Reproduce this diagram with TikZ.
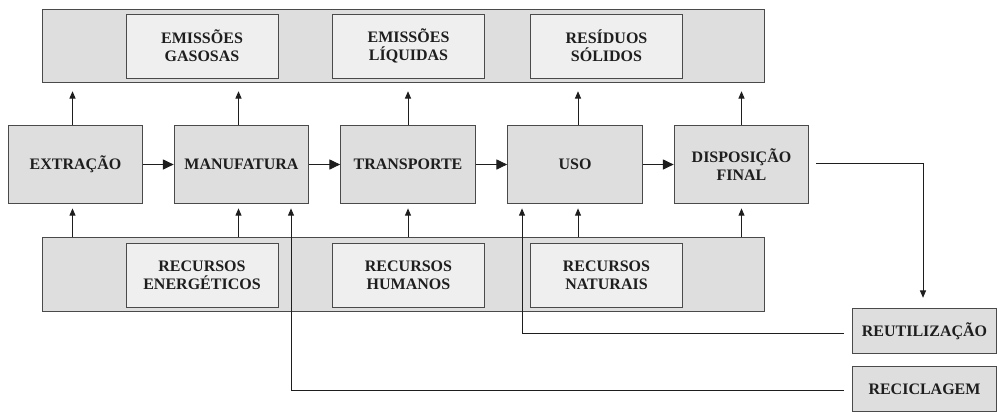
\documentclass[tikz,border=0pt]{standalone}
\usepackage{fontspec}
\setmainfont{Liberation Serif}
\usetikzlibrary{arrows.meta,positioning}
\definecolor{bandfill}{HTML}{DEDEDE}
\definecolor{innerfill}{HTML}{EFEFEF}
\definecolor{edge}{HTML}{4A4A4A}
\definecolor{ink}{HTML}{1E1E1E}
\tikzset{
  lbl/.style={align=center, font=\fontsize{12}{13.6}\selectfont\bfseries, text=ink},
  band/.style={draw=edge, fill=bandfill, line width=0.8pt, minimum width=542pt, minimum height=55pt, inner sep=0pt},
  inner/.style={lbl, draw=edge, fill=innerfill, line width=0.75pt, minimum width=114pt, minimum height=48pt, inner sep=0pt},
  stage/.style={lbl, draw=edge, fill=bandfill, line width=0.8pt, minimum width=101pt, minimum height=59pt, inner sep=0pt},
  side/.style={lbl, draw=edge, fill=bandfill, line width=0.8pt, minimum width=108pt, minimum height=34pt, inner sep=0pt},
  conn/.style={draw=ink, line width=0.7pt},
  uparr/.style={conn, -{Triangle[length=5.5pt,width=4.5pt]}},
  harr/.style={conn, -{Triangle[length=8pt,width=7.5pt]}},
}
\begin{document}
\begin{tikzpicture}[x=0.75pt,y=-0.75pt]
\useasboundingbox (0,0) rectangle (1000,411);
% bands
\node[band] (top) at (403.5,46) {};
\node[band] (bot) at (403.5,274.5) {};
% top inner boxes
\node[inner] (gas) at (202,46) {EMISSÕES\\GASOSAS};
\node[inner] (liq) at (408.5,46) {EMISSÕES\\LÍQUIDAS};
\node[inner] (sol) at (606.5,46) {RESÍDUOS\\SÓLIDOS};
% bottom inner boxes
\node[inner] (ene) at (202,275) {RECURSOS\\ENERGÉTICOS};
\node[inner] (hum) at (408.5,275) {RECURSOS\\HUMANOS};
\node[inner] (nat) at (606.5,275) {RECURSOS\\NATURAIS};
% stages
\node[stage] (ext) at (75.5,164.5) {EXTRAÇÃO};
\node[stage] (man) at (241.5,164.5) {MANUFATURA};
\node[stage] (tra) at (408,164.5) {TRANSPORTE};
\node[stage] (uso) at (575,164.5) {USO};
\node[stage] (dis) at (741.5,164.5) {DISPOSIÇÃO\\FINAL};
% side boxes
\node[side] (reu) at (924.5,331) {REUTILIZAÇÃO};
\node[side] (rec) at (924.5,389) {RECICLAGEM};
% horizontal flow
\draw[harr] (ext) -- (man);
\draw[harr] (man) -- (tra);
\draw[harr] (tra) -- (uso);
\draw[harr] (uso) -- (dis);
% up to emissions band, and up from resources band
\foreach \s/\dx in {ext/-3,man/-3,tra/0,uso/3,dis/0}{
  \draw[uparr, shorten >=6pt] ([xshift=\dx*0.75pt]\s.north) -- ([xshift=\dx*0.75pt]\s.north |- top.south);
  \draw[uparr, shorten >=3pt] ([xshift=\dx*0.75pt]\s.south |- bot.north) -- ([xshift=\dx*0.75pt]\s.south);
}
% disposal to reuse
\coordinate (d1) at (923,163);
\draw[uparr, shorten <=5pt, shorten >=7.5pt] (dis.east |- d1) -| (reu.north -| d1);
% reuse to use
\coordinate (r1) at (522,333);
\draw[uparr, shorten <=6pt, shorten >=3pt] (reu.west |- r1) -| (uso.south -| r1);
% recycling to manufacture
\coordinate (c1) at (291,390);
\draw[uparr, shorten <=6pt, shorten >=3pt] (rec.west |- c1) -| (man.south -| c1);
\end{tikzpicture}
\end{document}
